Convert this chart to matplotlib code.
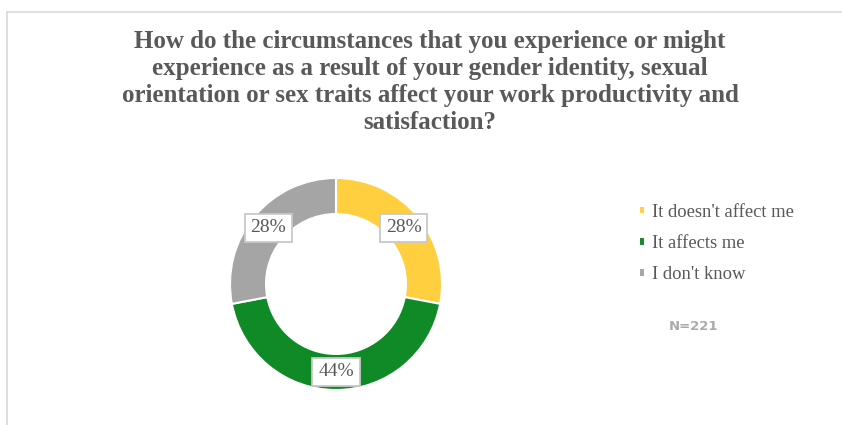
"""
plot.py

Donut chart of how circumstances linked to gender identity, sexual
orientation or sex traits affect work productivity and satisfaction.
"""

import matplotlib
matplotlib.use("Agg")
import matplotlib.pyplot as plt
import numpy as np
from matplotlib.lines import Line2D

# Data
categories = ["It doesn't affect me", "It affects me", "I don't know"]
shares = [28, 44, 28]
colors = ["#FFCF3F", "#0F8A27", "#A5A5A5"]
title = ("How do the circumstances that you experience or might\n"
         "experience as a result of your gender identity, sexual\n"
         "orientation or sex traits affect your work productivity and\n"
         "satisfaction?")
note = "N=221"

text_grey = "#595959"
serif = ["Liberation Serif", "DejaVu Serif"]

W, H = 842, 425
fig = plt.figure(figsize=(W / 100, H / 100), dpi=100)

# Chart frame (only top and left edges are visible in the crop)
fig.add_artist(Line2D([7 / W, 1], [1 - 12 / H, 1 - 12 / H], color="#D9D9D9", lw=1.2))
fig.add_artist(Line2D([7 / W, 7 / W], [0, 1 - 12 / H], color="#D9D9D9", lw=1.2))

fig.text(430 / W, 1 - 82 / H, title, ha="center", va="center", fontsize=18,
         fontweight="bold", color=text_grey, family=serif, linespacing=1.22)

# Donut
cx, cy, r = 336, H - 284, 106
ax = fig.add_axes([(cx - r) / W, (cy - r) / H, 2 * r / W, 2 * r / H])
wedges, _ = ax.pie(shares, colors=colors, startangle=90, counterclock=False,
                   radius=1, wedgeprops=dict(width=0.34, edgecolor="white", linewidth=1.5))
ax.set_xlim(-1, 1)
ax.set_ylim(-1, 1)
ax.set_aspect("equal")
ax.axis("off")

# Percentage labels in the middle of each ring segment
for w, val in zip(wedges, shares):
    ang = np.deg2rad((w.theta1 + w.theta2) / 2)
    ax.text(0.83 * np.cos(ang), 0.83 * np.sin(ang), f"{val}%", ha="center", va="center",
            fontsize=14, color=text_grey, family=serif,
            bbox=dict(boxstyle="square,pad=0.3", fc="white", ec="#C8C8C8", lw=1.3))

fig.legend(wedges, categories, loc="upper left", bbox_to_anchor=(622 / W, 1 - 187 / H),
           frameon=False, handlelength=0.33, handleheight=0.33, handletextpad=0.4,
           labelspacing=0.77, prop=dict(family=serif, size=13.4), labelcolor=text_grey)

fig.text(693 / W, 1 - 326 / H, note, ha="center", va="center", fontsize=9.5,
         fontweight="bold", color="#ABABAB", family="DejaVu Sans")

fig.savefig("out.png", dpi=100)
